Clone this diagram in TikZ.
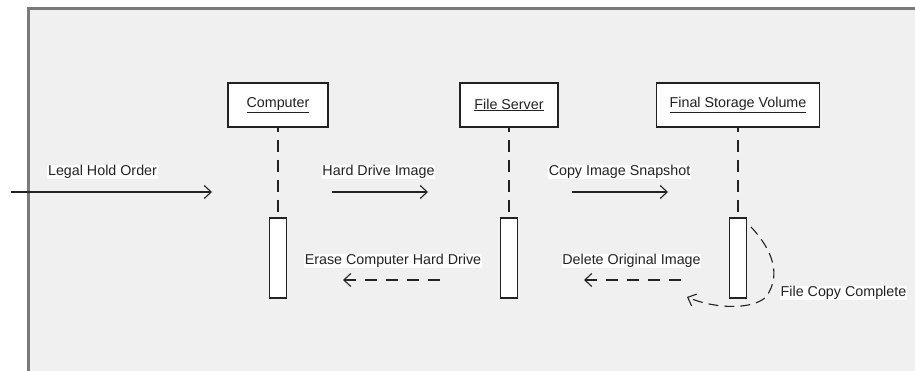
\documentclass[tikz,border=0pt]{standalone}
\usepackage{fontspec}
\setmainfont{Liberation Sans}
\usetikzlibrary{arrows.meta}
\definecolor{framebg}{HTML}{F0F0F0}
\definecolor{frameline}{HTML}{7A7A7A}
\definecolor{ink}{HTML}{222222}
\tikzset{
  objbox/.style={draw=ink, fill=white, line width=1.4pt, minimum height=44pt, inner sep=0pt},
  actbox/.style={draw=ink, fill=white, line width=1.2pt, minimum width=17pt, minimum height=80pt, inner sep=0pt},
  lifeline/.style={draw=ink, line width=1.5pt, dash pattern=on 12pt off 8pt, dash phase=8pt},
  msg/.style={draw=ink, line width=1.1pt, -{Straight Barb[length=7pt,width=13pt,line width=1.1pt]}},
  retmsg/.style={msg, dash pattern=on 12pt off 9pt},
  lbl/.style={fill=white, inner sep=0.6pt, text=ink, font=\fontsize{14.3}{16}\selectfont},
}
\begin{document}
\begin{tikzpicture}[x=1pt,y=-1pt]
\useasboundingbox (0,0) rectangle (915,371);
\clip (0,0) rectangle (915,371);
\fill[white] (0,0) rectangle (915,371);
\draw[frameline, line width=2.6pt, fill=framebg] (28.5,8.5) rectangle (940,400);

% object boxes
\node[objbox, minimum width=100pt, lbl, fill=white] (comp) at (278,105) {\underline{Computer}};
\node[objbox, minimum width=98pt, lbl, fill=white] (fs) at (509,105) {\underline{File Server}};
\node[objbox, minimum width=163pt, lbl, fill=white] (fsv) at (738,105) {\underline{Final Storage Volume}};

% activation bars
\node[actbox] (acomp) at (278,258) {};
\node[actbox] (afs) at (509,258) {};
\node[actbox] (afsv) at (738,258) {};

% lifelines
\draw[lifeline] (comp.south) -- (acomp.north);
\draw[lifeline] (fs.south) -- (afs.north);
\draw[lifeline] (fsv.south) -- (afsv.north);

% message endpoints
\coordinate (lhs) at (11,192);
\coordinate (lhe) at (212,192);
\coordinate (hds) at (332,192);
\coordinate (hde) at (428,192);
\coordinate (cis) at (572,192);
\coordinate (cie) at (668,192);
\coordinate (ers) at (440,280);
\coordinate (ere) at (343,280);
\coordinate (dls) at (681,280);
\coordinate (dle) at (584,280);
\coordinate (fcs) at (751,227);
\coordinate (fce) at (687,297);

\draw[msg] (lhs) -- (lhe);
\draw[msg] (hds) -- (hde);
\draw[msg] (cis) -- (cie);
\draw[retmsg] (ers) -- (ere);
\draw[retmsg] (dls) -- (dle);
\draw[msg, dash pattern=on 10pt off 6pt] (fcs) .. controls (768,245) and (784,272) .. (766,297)
  .. controls (752,310) and (715,309) .. (fce);

% labels
\node[lbl] (tlh) at (102.5,172) {Legal Hold Order};
\node[lbl] (thd) at (378.5,172) {Hard Drive Image};
\node[lbl] (tci) at (619.5,172) {Copy Image Snapshot};
\node[lbl] (ter) at (393,261) {Erase Computer Hard Drive};
\node[lbl] (tdl) at (631.5,261) {Delete Original Image};
\node[lbl] (tfc) at (843.5,293) {File Copy Complete};
\end{tikzpicture}
\end{document}
